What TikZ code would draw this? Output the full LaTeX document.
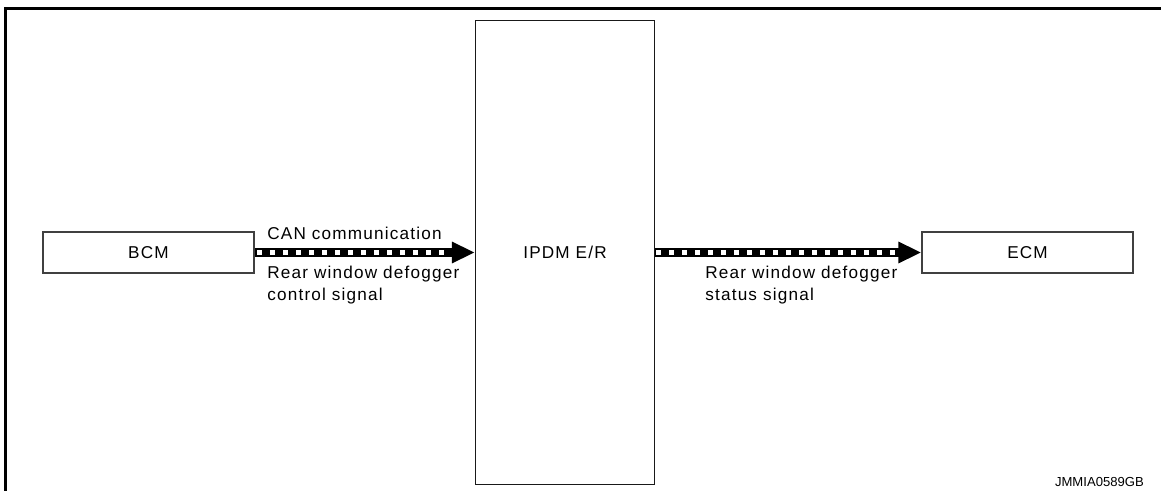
\documentclass[tikz,border=0pt]{standalone}
\usepackage{fontspec}
\setmainfont{Liberation Sans}[LetterSpace=7]
\newfontfamily\idfont{Liberation Sans}
\usetikzlibrary{arrows.meta}
\usetikzlibrary{positioning}
\tikzset{
  % control units: thin framed boxes
  unit/.style={
    draw=black!75,line width=0.8pt,inner sep=0pt,
    minimum width=5.275cm,minimum height=1.025cm,
    font=\fontsize{12.2}{15}\selectfont,
  },
  % signal lines: thick black with white squares inside
  sigline/.style={line width=0.2cm,-{Triangle[length=0.575cm,width=0.5cm]}},
  sigdash/.style={white,line width=0.1cm,dash pattern=on 0.11cm off 0.215cm},
  siglabel/.style={inner sep=0pt,align=left,anchor=base west,
    font=\fontsize{12.2}{15.5}\selectfont},
}

\begin{document}
\begin{tikzpicture}[x=0.025cm,y=-0.025cm]
  \useasboundingbox (0,0) rectangle (1161,491);
  % outer frame, only left and top sides show
  \draw[line width=0.075cm] (5.7,500) -- (5.7,8.5) -- (1170,8.5);

  \node[unit] (bcm) at (148.5,252.5) {BCM};
  \node[unit,minimum width=4.475cm,minimum height=11.575cm,draw=black!90]
    (ipdm) at (565,252.5) {IPDM E/R};
  \node[unit] (ecm) at (1027.5,252.5) {ECM};

  \draw[sigline] (bcm.east) -- (ipdm.west);
  \draw[sigdash,shorten <=0.07cm,shorten >=0.62cm] (bcm.east) -- (ipdm.west);
  \draw[sigline] (ipdm.east) -- (ecm.west);
  \draw[sigdash,shorten <=0.03cm,shorten >=0.6cm] (ipdm.east) -- (ecm.west);

  % labels: base anchor sits on the last line
  \node[siglabel] (can) at (267,239) {CAN communication};
  \node[siglabel] (ctrl) at (267,300) {Rear window defogger\\control signal};
  \node[siglabel] (stat) at (705,300) {Rear window defogger\\status signal};

  \node[inner sep=0pt,anchor=base east,font=\idfont\fontsize{9.3}{11}\selectfont]
    (code) at (1144,486) {JMMIA0589GB};
\end{tikzpicture}
\end{document}
